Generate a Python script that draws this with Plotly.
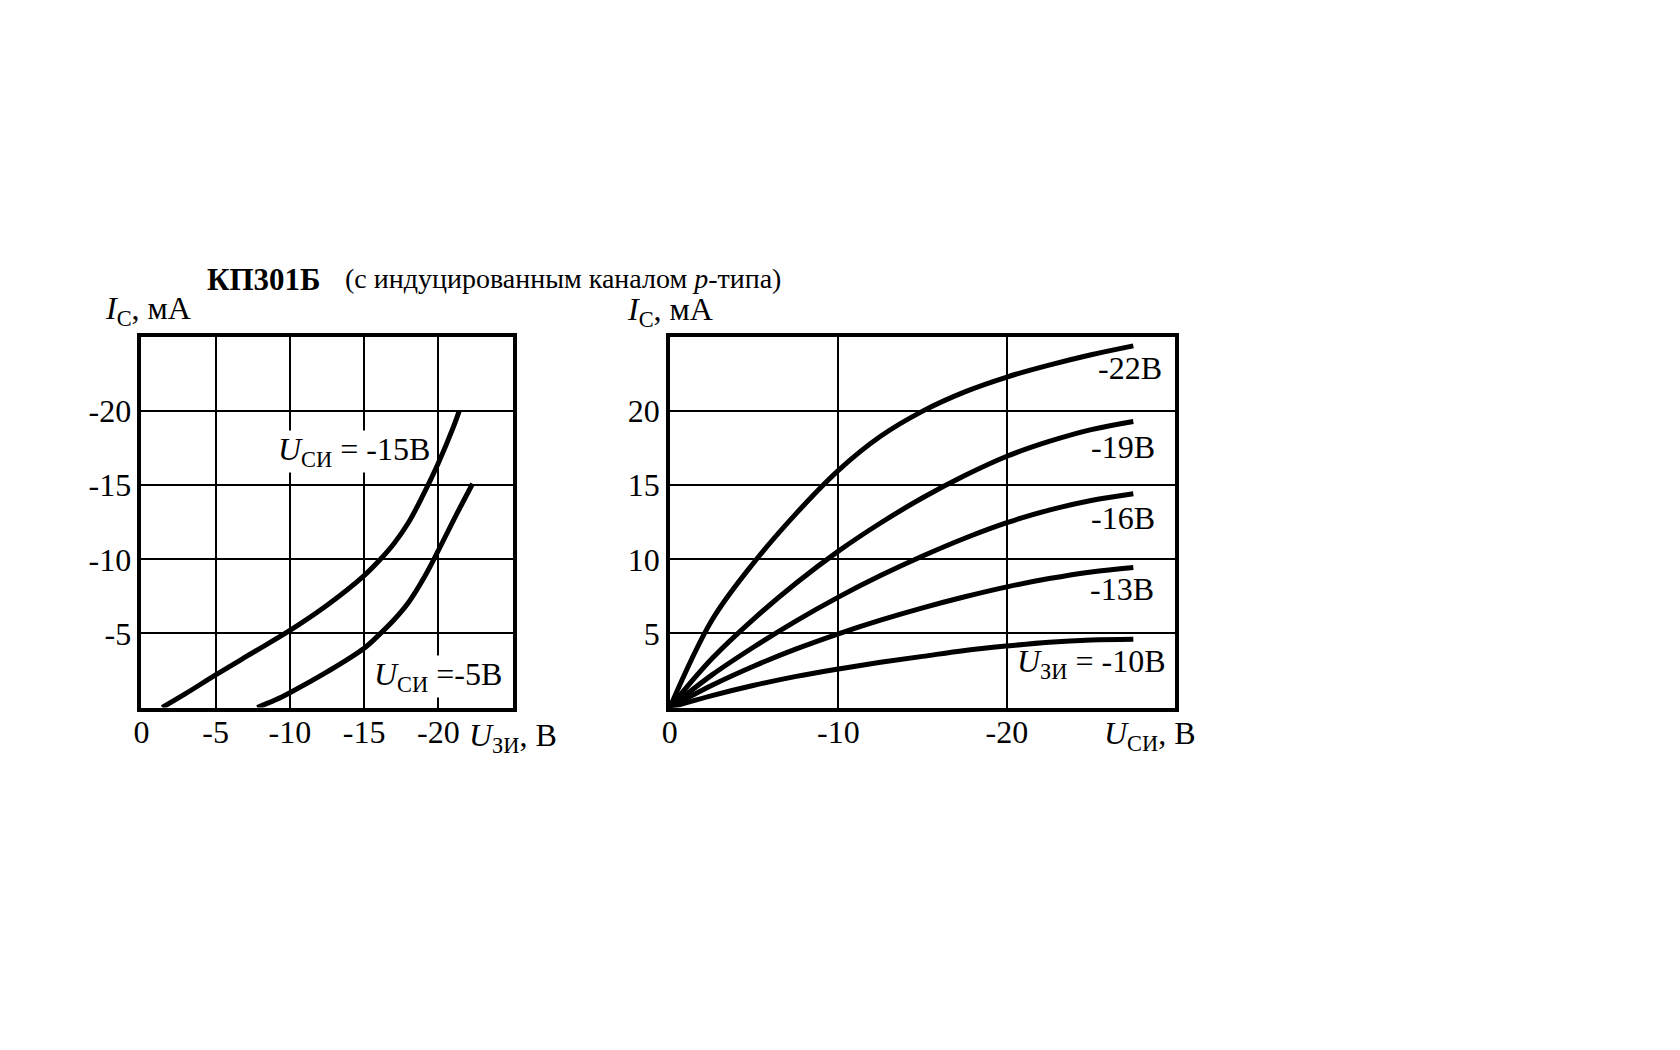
import plotly.graph_objects as go

# ---------------- data ----------------
# Left chart: transfer characteristics I_C(U_ЗИ), values in V and mA (negative, p-channel)
ugs_15 = [-1.4, -3, -5, -7.5, -10, -12.5, -15, -16, -17, -18, -19, -20, -21, -21.4]
ic_15 = [0, -0.95, -2.2, -3.7, -5.2, -6.9, -8.9, -9.9, -11.05, -12.5, -14.4,
         -16.5, -18.9, -20.0]

ugs_5 = [-7.8, -9, -10, -12.5, -15, -16, -17, -18, -19, -20, -21, -22.3]
ic_5 = [0, -0.5, -1.0, -2.4, -4.0, -4.9, -5.9, -7.1, -8.7, -10.6, -12.6, -15.1]

# Right chart: output characteristics I_C(U_СИ) for several U_ЗИ
uds = [0, -2.5, -5, -7.5, -10, -12.5, -15, -17.5, -20, -22.5, -25, -27.5]
ic_22 = [0, 5.9, 9.8, 13.1, 16.0, 18.3, 20.0, 21.3, 22.3, 23.1, 23.8, 24.4]
ic_19 = [0, 3.3, 6.0, 8.4, 10.55, 12.45, 14.15, 15.65, 16.95, 17.95, 18.75, 19.3]
ic_16 = [0, 2.2, 4.1, 5.85, 7.45, 8.9, 10.22, 11.42, 12.47, 13.32, 13.97, 14.42]
ic_13 = [0, 1.5, 2.8, 3.95, 4.97, 5.89, 6.72, 7.47, 8.14, 8.7, 9.15, 9.45]
ic_10 = [0, 0.8, 1.5, 2.1, 2.6, 3.05, 3.45, 3.85, 4.15, 4.4, 4.55, 4.6]

left_xticks = [0, -5, -10, -15, -20, -25]
left_xtext = ["0", "-5", "-10", "-15", "-20", ""]
left_yticks = [-5, -10, -15, -20, -25]
left_ytext = ["-5", "-10", "-15", "-20", ""]
right_xticks = [0, -10, -20, -30]
right_xtext = ["0", "-10", "-20", ""]
right_yticks = [5, 10, 15, 20, 25]
right_ytext = ["5", "10", "15", "20", ""]

# ---------------- figure ----------------
W, H = 1680, 1050
FONT = "Liberation Serif, Times New Roman, serif"
LINE = dict(color="black", width=5, shape="spline", smoothing=1.0)
TS = 32  # main text size


def px(x):
    return x / W


def py(y):
    return 1 - y / H


fig = go.Figure()
for xs, ys in [(ugs_15, ic_15), (ugs_5, ic_5)]:
    fig.add_trace(go.Scatter(x=xs, y=ys, mode="lines", line=LINE,
                             xaxis="x", yaxis="y", showlegend=False,
                             hoverinfo="skip"))
for ys in [ic_22, ic_19, ic_16, ic_13, ic_10]:
    fig.add_trace(go.Scatter(x=uds, y=ys, mode="lines", line=LINE,
                             xaxis="x2", yaxis="y2", showlegend=False,
                             hoverinfo="skip"))

axis_common = dict(showgrid=True, gridcolor="black", gridwidth=1.8,
                   showline=True, linecolor="black", linewidth=3.5,
                   mirror=True, zeroline=False, ticks="",
                   tickfont=dict(family=FONT, size=TS, color="black"),
                   tickmode="array", fixedrange=True)

ytop, ybot = 329, 699.5
fig.update_layout(
    width=W, height=H,
    margin=dict(l=0, r=0, t=0, b=0),
    paper_bgcolor="white", plot_bgcolor="white",
    xaxis=dict(axis_common, domain=[px(126), px(499)], range=[0, -25],
               tickvals=left_xticks, ticktext=left_xtext, anchor="y",
               ticklabelstandoff=-7),
    yaxis=dict(axis_common, domain=[py(ybot), py(ytop)], range=[0, -25],
               tickvals=left_yticks, ticktext=left_ytext, anchor="x",
               ticklabelstandoff=0),
    xaxis2=dict(axis_common, domain=[px(657), px(1165)], range=[0, -30],
                tickvals=right_xticks, ticktext=right_xtext, anchor="y2",
                ticklabelstandoff=-7),
    yaxis2=dict(axis_common, domain=[py(ybot), py(ytop)], range=[0, 25],
                tickvals=right_yticks, ticktext=right_ytext, anchor="x2",
                ticklabelstandoff=0),
)


def paper_text(x, y, text, size=TS, xanchor="left"):
    fig.add_annotation(x=px(x), y=py(y), xref="paper", yref="paper",
                       text=text, showarrow=False, xanchor=xanchor,
                       yanchor="middle",
                       font=dict(family=FONT, size=size, color="black"))


def data_text(x, y, text, xr, yr, size=TS, bg=None):
    fig.add_annotation(x=x, y=y, xref=xr, yref=yr, text=text,
                       showarrow=False, xanchor="center", yanchor="middle",
                       bgcolor=bg, borderpad=0,
                       font=dict(family=FONT, size=size, color="black"))


# Title
paper_text(190, 271, "<b>КП301Б</b>", size=31)
paper_text(329, 270, "(с индуцированным каналом <i>p</i>-типа)", size=28)

# Axis labels
paper_text(87, 302, "<i>I</i><sub>С</sub>, мА")
paper_text(612, 303, "<i>I</i><sub>С</sub>, мА")
paper_text(453, 729, "<i>U</i><sub>ЗИ</sub>, В")
paper_text(1091, 727, "<i>U</i><sub>СИ</sub>, В")

# Curve labels, left chart (white box masks the grid behind the text)
data_text(-14.3, -17.3, "<i>U</i><sub>СИ</sub> = -15В", "x", "y", bg="white")
data_text(-20.0, -2.1, "<i>U</i><sub>СИ</sub> =-5В", "x", "y", bg="white")

# Curve labels, right chart
data_text(-27.3, 22.9, "-22В", "x2", "y2")
data_text(-26.9, 17.55, "-19В", "x2", "y2")
data_text(-26.9, 12.8, "-16В", "x2", "y2")
data_text(-26.8, 8.0, "-13В", "x2", "y2")
data_text(-25.0, 3.0, "<i>U</i><sub>ЗИ</sub> = -10В", "x2", "y2")

fig.write_html("out.html")
